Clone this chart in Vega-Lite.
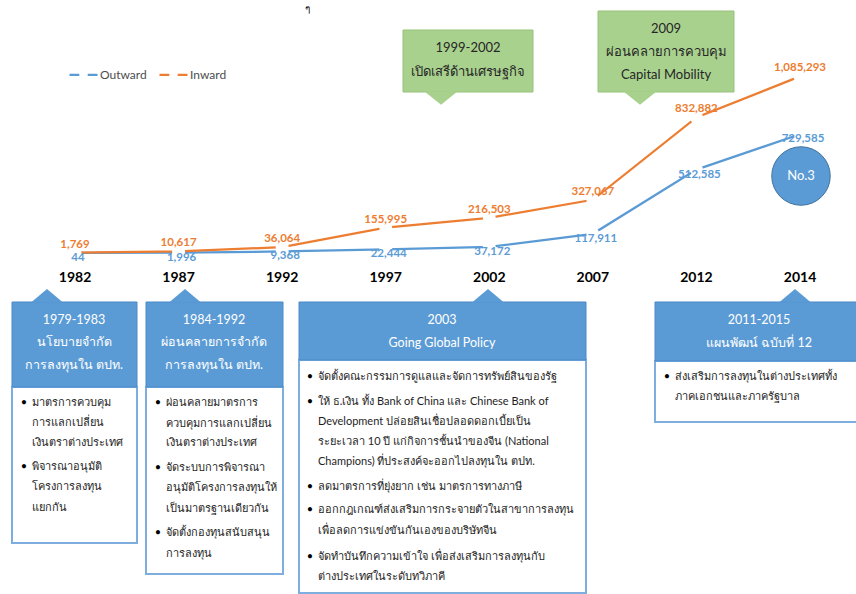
{
  "$schema": "https://vega.github.io/schema/vega-lite/v6.json",
  "width": 856,
  "height": 594,
  "autosize": {"type": "none"},
  "padding": 0,
  "background": "white",
  "config": {"view": {"stroke": null}, "text": {"font": "Lato"}},
  "datasets": {
    "series": [
      {"year": 1982, "series": "Outward", "value": 44},
      {"year": 1987, "series": "Outward", "value": 1996},
      {"year": 1992, "series": "Outward", "value": 9368},
      {"year": 1997, "series": "Outward", "value": 22444},
      {"year": 2002, "series": "Outward", "value": 37172},
      {"year": 2007, "series": "Outward", "value": 117911},
      {"year": 2012, "series": "Outward", "value": 512585},
      {"year": 2014, "series": "Outward", "value": 729585},
      {"year": 1982, "series": "Inward", "value": 1769},
      {"year": 1987, "series": "Inward", "value": 10617},
      {"year": 1992, "series": "Inward", "value": 36064},
      {"year": 1997, "series": "Inward", "value": 155995},
      {"year": 2002, "series": "Inward", "value": 216503},
      {"year": 2007, "series": "Inward", "value": 327067},
      {"year": 2012, "series": "Inward", "value": 832882},
      {"year": 2014, "series": "Inward", "value": 1085293}
    ],
    "gbox": [
      {"x": 403, "x2": 533, "y": 30, "y2": 92},
      {"x": 598, "x2": 734, "y": 11, "y2": 92}
    ],
    "gptr": [{"x": 441, "y": 91.5}, {"x": 640, "y": 91.5}],
    "gtext": [
      {"x": 468, "y": 48, "t": "1999-2002"},
      {"x": 468, "y": 72, "t": "เปิดเสรีด้านเศรษฐกิจ"},
      {"x": 666, "y": 29, "t": "2009"},
      {"x": 666, "y": 52, "t": "ผ่อนคลายการควบคุม"},
      {"x": 666, "y": 75, "t": "Capital Mobility"}
    ],
    "hbox": [
      {"x": 12, "x2": 137, "y": 302, "y2": 387},
      {"x": 146, "x2": 283, "y": 302, "y2": 387},
      {"x": 299, "x2": 586, "y": 302, "y2": 360},
      {"x": 655, "x2": 858, "y": 302, "y2": 361}
    ],
    "bbox": [
      {"x": 12, "x2": 137, "y": 387, "y2": 543},
      {"x": 146, "x2": 283, "y": 387, "y2": 574},
      {"x": 299, "x2": 586, "y": 360, "y2": 593},
      {"x": 655, "x2": 858, "y": 361, "y2": 422}
    ],
    "hptr": [
      {"x": 47, "y": 302.5},
      {"x": 185, "y": 302.5},
      {"x": 488, "y": 302.5},
      {"x": 795, "y": 302.5}
    ],
    "htext": [
      {"x": 74, "y": 320, "t": "1979-1983"},
      {"x": 74, "y": 342, "t": "นโยบายจำกัด"},
      {"x": 74, "y": 365, "t": "การลงทุนใน ตปท."},
      {"x": 214, "y": 320, "t": "1984-1992"},
      {"x": 214, "y": 342, "t": "ผ่อนคลายการจำกัด"},
      {"x": 214, "y": 365, "t": "การลงทุนใน ตปท."},
      {"x": 442, "y": 320, "t": "2003"},
      {"x": 442, "y": 343, "t": "Going Global Policy"},
      {"x": 759, "y": 320, "t": "2011-2015"},
      {"x": 759, "y": 343, "t": "แผนพัฒน์ ฉบับที่ 12"}
    ],
    "btext": [
      {"x": 32, "y": 403, "t": "มาตรการควบคุม", "b": true},
      {"x": 32, "y": 423, "t": "การแลกเปลี่ยน", "b": false},
      {"x": 32, "y": 443, "t": "เงินตราต่างประเทศ", "b": false},
      {"x": 32, "y": 467, "t": "พิจารณาอนุมัติ", "b": true},
      {"x": 32, "y": 487, "t": "โครงการลงทุน", "b": false},
      {"x": 32, "y": 508, "t": "แยกกัน", "b": false},
      {"x": 166, "y": 403, "t": "ผ่อนคลายมาตรการ", "b": true},
      {"x": 166, "y": 424, "t": "ควบคุมการแลกเปลี่ยน", "b": false},
      {"x": 166, "y": 443, "t": "เงินตราต่างประเทศ", "b": false},
      {"x": 166, "y": 468, "t": "จัดระบบการพิจารณา", "b": true},
      {"x": 166, "y": 488, "t": "อนุมัติโครงการลงทุนให้", "b": false},
      {"x": 166, "y": 509, "t": "เป็นมาตรฐานเดียวกัน", "b": false},
      {"x": 166, "y": 533, "t": "จัดตั้งกองทุนสนับสนุน", "b": true},
      {"x": 166, "y": 554, "t": "การลงทุน", "b": false},
      {"x": 318, "y": 377, "t": "จัดตั้งคณะกรรมการดูแลและจัดการทรัพย์สินของรัฐ", "b": true},
      {"x": 318, "y": 402, "t": "ให้ ธ.เงิน ทั้ง Bank of China และ Chinese Bank of", "b": true},
      {"x": 318, "y": 422, "t": "Development  ปล่อยสินเชื่อปลอดดอกเบี้ยเป็น", "b": false},
      {"x": 318, "y": 442, "t": "ระยะเวลา 10 ปี แก่กิจการชั้นนำของจีน (National", "b": false},
      {"x": 318, "y": 462, "t": "Champions) ที่ประสงค์จะออกไปลงทุนใน  ตปท.", "b": false},
      {"x": 318, "y": 487, "t": "ลดมาตรการที่ยุ่งยาก เช่น มาตรการทางภาษี", "b": true},
      {"x": 318, "y": 510, "t": "ออกกฎเกณฑ์ส่งเสริมการกระจายตัวในสาขาการลงทุน", "b": true},
      {"x": 318, "y": 531, "t": "เพื่อลดการแข่งขันกันเองของบริษัทจีน", "b": false},
      {"x": 318, "y": 557, "t": "จัดทำบันทึกความเข้าใจ เพื่อส่งเสริมการลงทุนกับ", "b": true},
      {"x": 318, "y": 577, "t": "ต่างประเทศในระดับทวิภาคี", "b": false},
      {"x": 675, "y": 377, "t": "ส่งเสริมการลงทุนในต่างประเทศทั้ง", "b": true},
      {"x": 675, "y": 397, "t": "ภาคเอกชนและภาครัฐบาล", "b": false}
    ],
    "badge": [{"x": 801, "y": 176, "t": "No.3"}],
    "stray": [{"x": 307, "y": 9, "t": "ๆ"}]
  },
  "resolve": {"scale": {"x": "independent", "y": "independent"}},
  "layer": [
    {
      "encoding": {
        "x": {"field": "x", "type": "quantitative", "scale": {"domain": [0, 856], "range": [0, 856]}, "axis": null},
        "y": {"field": "y", "type": "quantitative", "scale": {"domain": [0, 594], "range": [0, 594]}, "axis": null}
      },
      "layer": [
        {"data": {"name": "gbox"}, "mark": {"type": "rect", "fill": "#a9d18e", "stroke": "#97c27a", "strokeWidth": 1},
         "encoding": {"x2": {"field": "x2"}, "y2": {"field": "y2"}}},
        {"data": {"name": "gptr"}, "mark": {"type": "point", "filled": true, "fill": "#a9d18e", "strokeWidth": 0, "opacity": 1, "shape": "M-1,0L1,0L0,0.8Z", "size": 1089}},
        {"data": {"name": "gtext"}, "mark": {"type": "text", "fontSize": 13, "color": "#262626", "align": "center", "baseline": "middle", "font": "Lato"},
         "encoding": {"text": {"field": "t"}}},
        {"data": {"name": "bbox"}, "mark": {"type": "rect", "fill": "white", "stroke": "#7eaee0", "strokeWidth": 2},
         "encoding": {"x2": {"field": "x2"}, "y2": {"field": "y2"}}},
        {"data": {"name": "hbox"}, "mark": {"type": "rect", "fill": "#5b9bd5", "stroke": "#4a89c8", "strokeWidth": 1},
         "encoding": {"x2": {"field": "x2"}, "y2": {"field": "y2"}}},
        {"data": {"name": "hptr"}, "mark": {"type": "point", "filled": true, "fill": "#5b9bd5", "strokeWidth": 0, "opacity": 1, "shape": "M-1,0L1,0L0,-0.85Z", "size": 1024}},
        {"data": {"name": "htext"}, "mark": {"type": "text", "fontSize": 12.5, "color": "white", "align": "center", "baseline": "middle", "font": "Lato"},
         "encoding": {"text": {"field": "t"}}},
        {"data": {"name": "btext"}, "mark": {"type": "text", "fontSize": 11, "color": "#1e1e1e", "align": "left", "baseline": "middle", "font": "Lato"},
         "encoding": {"text": {"field": "t"}}},
        {"data": {"name": "btext"}, "transform": [{"filter": "datum.b"}],
         "mark": {"type": "text", "fontSize": 11, "color": "#000000", "align": "center", "baseline": "middle", "dx": -8, "text": "•"}},
        {"data": {"name": "badge"}, "mark": {"type": "point", "shape": "circle", "filled": true, "fill": "#5b9bd5", "stroke": "#41719c", "strokeWidth": 1, "opacity": 1, "size": 3421}},
        {"data": {"name": "badge"}, "mark": {"type": "text", "fontSize": 13, "color": "white", "align": "center", "baseline": "middle", "font": "Lato"},
         "encoding": {"text": {"field": "t"}}},
        {"data": {"name": "stray"}, "mark": {"type": "text", "fontSize": 10, "color": "#000000", "align": "center", "baseline": "middle"},
         "encoding": {"text": {"field": "t"}}}
      ]
    },
    {
      "data": {"name": "series"},
      "encoding": {
        "x": {"field": "year", "type": "ordinal", "scale": {"type": "point", "padding": 0, "domain": [1982, 1987, 1992, 1997, 2002, 2007, 2012, 2014], "range": [75, 800]}, "axis": null},
        "y": {"field": "value", "type": "quantitative", "scale": {"domain": [0, 1100000], "range": [253, 74]}, "axis": null}
      },
      "layer": [
        {"transform": [{"filter": "datum.series === 'Outward'"}],
         "mark": {"type": "line", "strokeWidth": 2.25},
         "encoding": {"color": {"field": "series", "type": "nominal",
           "scale": {"domain": ["Outward", "Inward"], "range": ["#5b9bd5", "#ed7d31"]},
           "legend": {"orient": "none", "legendX": 68, "legendY": 59, "direction": "horizontal", "title": null,
             "symbolType": "M-1,0L-0.3,0M0.3,0L1,0", "symbolSize": 784, "symbolStrokeWidth": 2.25,
             "labelFontSize": 12, "labelColor": "#4d4d4d", "labelFont": "Lato", "labelOffset": 1, "columnPadding": 8}}}},
        {"transform": [{"filter": "datum.series === 'Outward'"}],
         "mark": {"type": "point", "shape": "circle", "filled": true, "fill": "white", "strokeWidth": 0, "opacity": 1, "size": 170}},
        {"transform": [{"filter": "datum.series === 'Inward'"}],
         "mark": {"type": "line", "strokeWidth": 2.25},
         "encoding": {"color": {"field": "series", "type": "nominal"}}},
        {"transform": [{"filter": "datum.series === 'Inward'"}],
         "mark": {"type": "point", "shape": "circle", "filled": true, "fill": "white", "strokeWidth": 0, "opacity": 1, "size": 170}},
        {"transform": [{"filter": "datum.series === 'Outward'"}],
         "mark": {"type": "text", "dy": 5, "dx": 3, "fontSize": 11.5, "fontWeight": "bold", "color": "#5b9bd5", "font": "Lato"},
         "encoding": {"text": {"field": "value", "type": "quantitative", "format": ","}}},
        {"transform": [{"filter": "datum.series === 'Inward'"}],
         "mark": {"type": "text", "dy": -8, "fontSize": 11.5, "fontWeight": "bold", "color": "#ed7d31", "font": "Lato"},
         "encoding": {"text": {"field": "value", "type": "quantitative", "format": ","}}},
        {"transform": [{"filter": "datum.series === 'Outward'"}],
         "mark": {"type": "text", "dy": 25, "fontSize": 14, "fontWeight": "bold", "color": "#000000", "font": "Lato"},
         "encoding": {"y": {"datum": 0}, "text": {"field": "year", "type": "ordinal"}}}
      ]
    }
  ]
}
